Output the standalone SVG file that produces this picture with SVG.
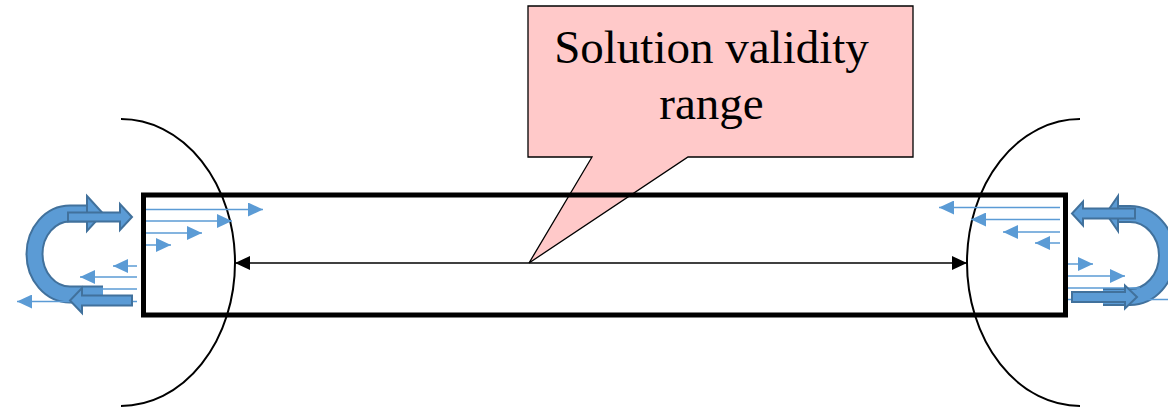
<svg xmlns="http://www.w3.org/2000/svg" width="1168" height="409" viewBox="0 0 1168 409">
  <style>
    .thin { stroke: #5B9BD5; stroke-width: 1.5; fill: none; marker-end: url(#bh); }
    .thinl { stroke: #5B9BD5; stroke-width: 1.5; fill: none; }
    .bandO { stroke: #41719C; stroke-width: 18; fill: none; }
    .bandI { stroke: #5B9BD5; stroke-width: 14; fill: none; }
    .blk { fill: #5B9BD5; stroke: #41719C; stroke-width: 2; stroke-linejoin: miter; }
    .arc { fill: none; stroke: #000; stroke-width: 2; }
    .lbl { font-family: "Liberation Serif", "Times New Roman", serif; font-size: 47px; fill: #000; text-anchor: middle; }
  </style>
  <defs>
    <marker id="bh" markerUnits="userSpaceOnUse" viewBox="0 0 15 14" markerWidth="15" markerHeight="14" refX="15" refY="7" orient="auto">
      <path d="M0,0 L15,7 L0,14 Z" fill="#5B9BD5"/>
    </marker>
    <marker id="kh" markerUnits="userSpaceOnUse" viewBox="0 0 15 14" markerWidth="15" markerHeight="14" refX="15" refY="7" orient="auto-start-reverse">
      <path d="M0,0 L15,7 L0,14 Z" fill="#000"/>
    </marker>
  </defs>

  <g id="callout">
    <path d="M528,6 H913 V157 H688 L529,263 L592,157 H528 Z" fill="#FFC9C9" stroke="#000" stroke-width="1.3"/>
    <text class="lbl" x="711.5" y="63">Solution validity</text>
    <text class="lbl" x="711.5" y="119">range</text>
  </g>

  <g id="domain">
    <rect x="143.5" y="195" width="922" height="120" fill="none" stroke="#000" stroke-width="5"/>
  </g>

  <g id="boundaries">
    <path class="arc" d="M121,119 A114,143.5 0 0 1 121,406"/>
    <path class="arc" d="M1080,119 A113,143.5 0 0 0 1080,406"/>
  </g>

  <g id="connectors">
    <line x1="235" y1="263" x2="967" y2="263" stroke="#000" stroke-width="1.5" marker-start="url(#kh)" marker-end="url(#kh)"/>
  </g>

  <g id="left-flow">
    <path class="bandO" d="M103,294.5 H70 A35.5,40.5 0 0 1 70,213.5 H88"/>
    <path class="bandI" d="M103,294.5 H70 A35.5,40.5 0 0 1 70,213.5 H88"/>
    <path class="blk" d="M87,196 L103,213.5 L87,231 Z"/>
    <line class="thin" x1="146" y1="209.5" x2="263" y2="209.5"/>
    <line class="thin" x1="146" y1="221" x2="232" y2="221"/>
    <line class="thin" x1="146" y1="233" x2="202" y2="233"/>
    <line class="thin" x1="146" y1="245" x2="171" y2="245"/>
    <line class="thin" x1="137" y1="266" x2="113" y2="266"/>
    <line class="thin" x1="137" y1="277" x2="80" y2="277"/>
    <line class="thinl" x1="137" y1="289" x2="67" y2="289"/>
    <line class="thin" x1="137" y1="301.5" x2="17" y2="301.5"/>
    <path class="blk" d="M68,212.5 H120 V204 L132,217 L120,230 V221.5 H68 Z"/>
    <path class="blk" d="M132,295.5 H82 V288 L70,300.5 L82,313 V305.5 H132 Z"/>
  </g>

  <g id="right-flow">
    <path class="bandO" d="M1103,297 H1130 A37,41.5 0 0 0 1130,214 H1118"/>
    <path class="bandI" d="M1103,297 H1130 A37,41.5 0 0 0 1130,214 H1118"/>
    <path class="blk" d="M1118,196 L1106,213.5 L1118,231 Z"/>
    <line class="thin" x1="1060" y1="207.5" x2="939" y2="207.5"/>
    <line class="thin" x1="1060" y1="219.5" x2="971" y2="219.5"/>
    <line class="thin" x1="1060" y1="232" x2="1003" y2="232"/>
    <line class="thin" x1="1060" y1="243" x2="1035" y2="243"/>
    <line class="thin" x1="1068" y1="264" x2="1093" y2="264"/>
    <line class="thin" x1="1068" y1="276" x2="1125" y2="276"/>
    <line class="thinl" x1="1068" y1="288" x2="1140" y2="288"/>
    <line class="thinl" x1="1068" y1="299.5" x2="1168" y2="299.5"/>
    <path class="blk" d="M1135,208.5 H1083 V201.5 L1072,213.5 L1083,225.5 V218.5 H1135 Z"/>
    <path class="blk" d="M1072,292 H1125 V285.5 L1137,297 L1125,308.5 V302 H1072 Z"/>
  </g>
</svg>
